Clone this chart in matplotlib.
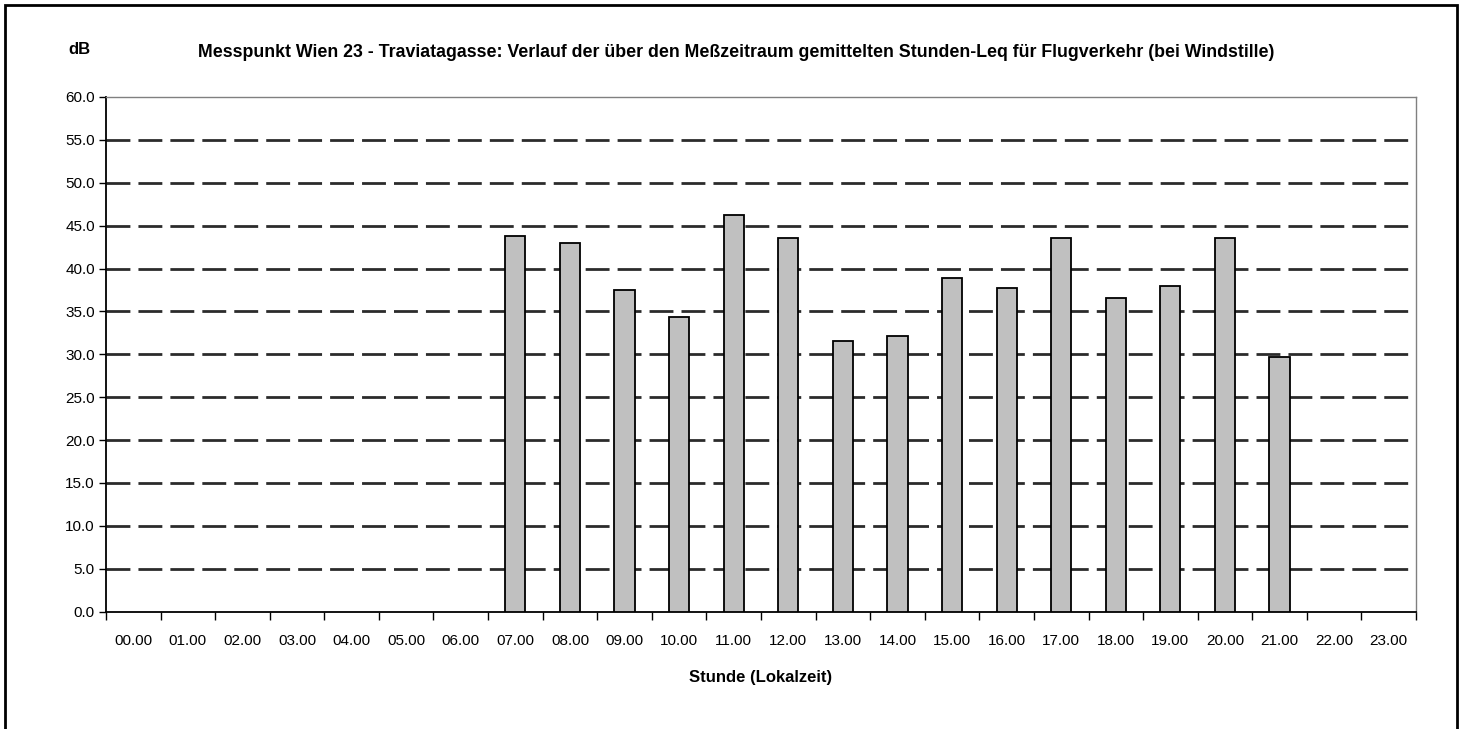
import numpy as np
import matplotlib.pyplot as plt
from matplotlib.patches import Rectangle

# Stunden-Leq (dB) je Stunde, Flugverkehr bei Windstille
stunden = ['00.00', '01.00', '02.00', '03.00', '04.00', '05.00', '06.00', '07.00',
           '08.00', '09.00', '10.00', '11.00', '12.00', '13.00', '14.00', '15.00',
           '16.00', '17.00', '18.00', '19.00', '20.00', '21.00', '22.00', '23.00']
leq = [0, 0, 0, 0, 0, 0, 0, 43.8, 43.0, 37.5, 34.4, 46.2, 43.6, 31.5,
       32.1, 38.9, 37.7, 43.5, 36.6, 38.0, 43.5, 29.7, 0, 0]
y_ticks = np.arange(0, 60.1, 5)

plt.rcParams['font.family'] = ['Liberation Sans Narrow', 'Liberation Sans', 'DejaVu Sans']

fig = plt.figure(figsize=(14.66, 7.29), dpi=100)
ax = fig.add_axes([0.0723, 0.161, 0.8936, 0.706])

x = np.arange(len(stunden))
vals = np.array(leq, dtype=float)
mask = vals > 0
ax.bar(x[mask], vals[mask], width=0.37, color='#c0c0c0', edgecolor='black',
       linewidth=1.3, zorder=3)

ax.set_xlim(-0.5, len(stunden) - 0.5)
ax.set_ylim(0, 60)
ax.set_yticks(y_ticks)
ax.set_yticklabels([f'{v:.1f}' for v in y_ticks], fontsize=11)
for v in y_ticks[1:-1]:
    ax.axhline(v, color='#2b2b2b', linewidth=2, dashes=(8.6, 2.9), zorder=1)

ax.set_xticks(x)
ax.set_xticklabels(stunden, fontsize=11)
ax.tick_params(axis='x', length=0, pad=16)
ax.set_xticks(np.arange(-0.5, len(stunden)), minor=True)
ax.tick_params(axis='x', which='minor', length=6, width=1, direction='out', color='black')
ax.tick_params(axis='y', length=5, width=1, direction='out', pad=3)

for s in ['top', 'right']:
    ax.spines[s].set_color('#808080')
    ax.spines[s].set_linewidth(1)
for s in ['left', 'bottom']:
    ax.spines[s].set_color('black')
    ax.spines[s].set_linewidth(1.3)

ax.set_xlabel('Stunde (Lokalzeit)', fontsize=12, fontweight='bold', labelpad=16)
fig.text(0.502, 0.928,
         'Messpunkt Wien 23 - Traviatagasse: Verlauf der über den Meßzeitraum gemittelten Stunden-Leq für Flugverkehr (bei Windstille)',
         ha='center', va='center', fontsize=12.8, fontweight='bold')
fig.text(0.0545, 0.932, 'dB', ha='center', va='center', fontsize=12, fontweight='bold')

fig.patches.append(Rectangle((0.0034, -0.02), 0.9905, 1.013, transform=fig.transFigure,
                             fill=False, edgecolor='black', linewidth=2))

plt.savefig('out.png', dpi=100)
